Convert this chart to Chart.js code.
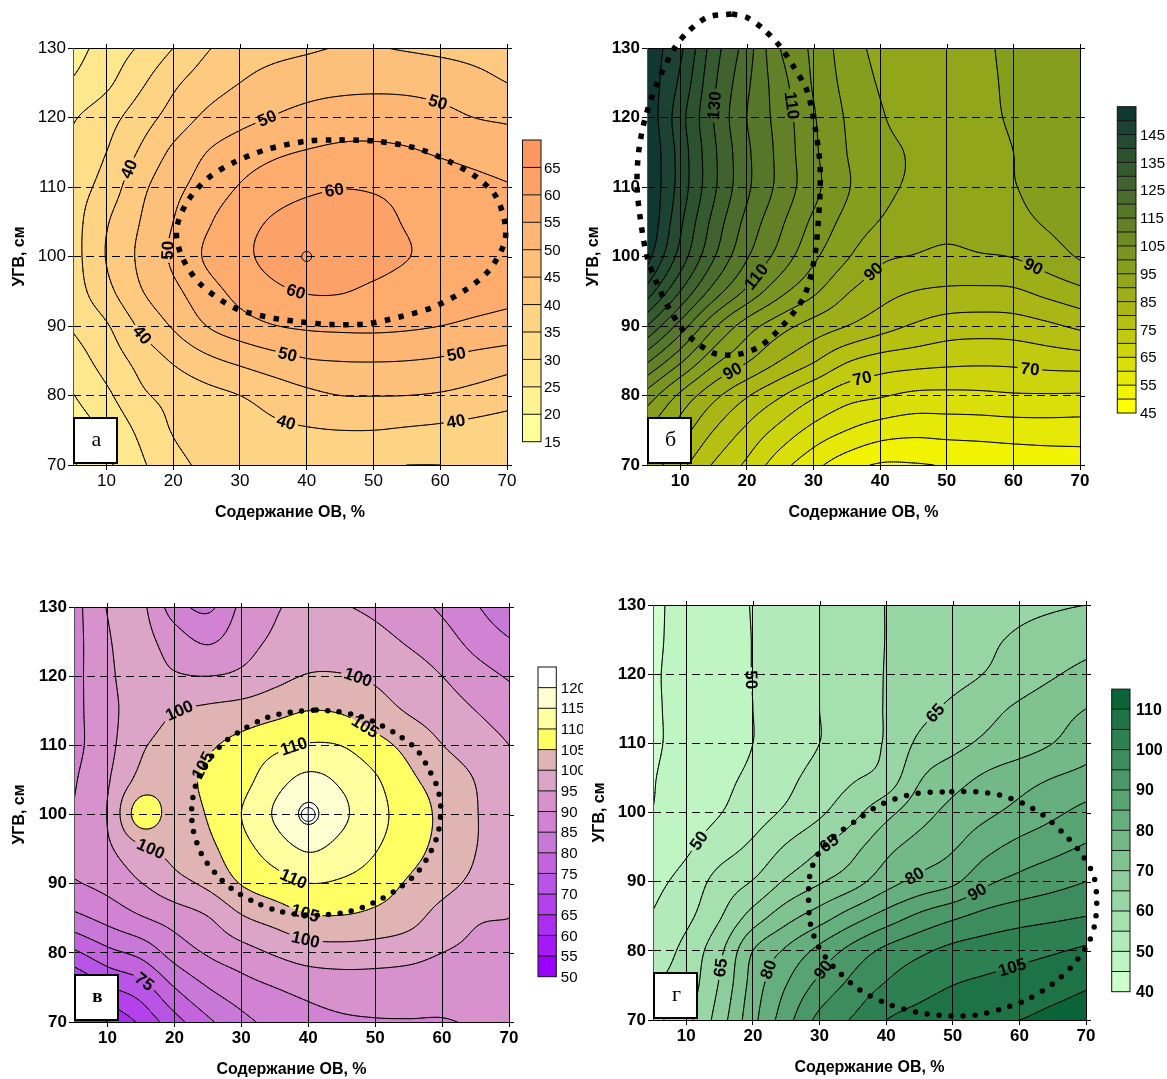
<!DOCTYPE html>
<html><head><meta charset="utf-8">
<script src="https://cdn.jsdelivr.net/npm/chart.js@4.4.1/dist/chart.umd.min.js"></script>
<style>
html,body{margin:0;padding:0;background:#fff;}
#wrap{position:relative;width:1167px;height:1079px;overflow:hidden;background:#fff;}
canvas{position:absolute;}
</style></head><body>
<div id="wrap">
<canvas id="ca" width="583" height="540" style="left:0;top:0"></canvas>
<canvas id="cb" width="584" height="540" style="left:583px;top:0"></canvas>
<canvas id="cc" width="583" height="539" style="left:0;top:540px"></canvas>
<canvas id="cd" width="584" height="539" style="left:583px;top:540px"></canvas>
</div>
<script>
// ---------------- DATA ----------------
const xGrid = [5,10,15,20,25,30,35,40,45,50,55,60,65,70];
const yGrid = [130,125,120,115,110,105,100,95,90,85,80,75,70];
const xTicks = [10,20,30,40,50,60,70];
const yTicks = [70,80,90,100,110,120,130];
const xTitle = 'Содержание ОВ, %';
const yTitle = 'УГВ, см';

// Panel а
const zA = [
 [23,27,30.5,35,39.5,42,43.3,44.3,45.2,45.2,44.6,44,43.5,43],
 [25.5,29,34,39,42.5,45,47,48,48.5,48.7,48.5,47.8,46.5,45],
 [29.5,33,37.5,42,46,48.5,50.2,51.5,52.5,52.8,52.5,51.5,50,49.3],
 [31,35,40.5,46,50,52.5,54.2,55.3,56,56,55.5,54.5,53.5,52.5],
 [32.5,37,43.5,48.5,52,55.3,57.5,59,59.8,59.5,58.5,57.3,56.2,55.3],
 [33,39.5,45,50,54.3,58,60.5,62,62.3,61.5,59.6,57.8,56.8,56.2],
 [33,40.2,45.8,50.8,55.6,58.8,61.3,62.8,63,62,60.2,58.3,57.2,56.5],
 [32.5,38.5,44.5,48.8,53,56.5,59,60.3,60.3,59,57.5,56.7,56.2,55.8],
 [30.5,34.5,40.7,45.5,50,52.8,54.8,55.7,56,56,55.6,55,54.2,53.5],
 [27.5,32,36.5,40.5,43.8,46,48,49.6,50.1,50.2,50,49.4,48.2,47],
 [24.8,29,34,36.5,38.5,40,42,43.8,45,45.1,45,44.5,43.5,42.3],
 [22,26,31,35.3,37,38,39,39.6,40,40,39.5,39,38.3,37.5],
 [19.5,24,29,33.5,35.8,36.3,36.3,36,35.5,35.2,35,35,35.3,35.8]
];
const bandEdgesA = [15,20,25,30,35,40,45,50,55,60,65,70];
const contourLevelsA = [20,25,30,35,40,45,50,55,60,65];
const colorbarLabelsA = [15,20,25,30,35,40,45,50,55,60,65];
const labelAX = [13.6,15.6,18.8,34,59.4,44.2,38.2,37,62.3,37,62.3];
const labelAY = [112.5,88.9,100.9,120,121.4,109.1,94.4,85.5,86.5,76.4,76.6];
const labelAV = [40,40,50,50,50,60,60,50,50,40,40];
const ellipseAX = [44.9,50.4,56.4,61.3,65.3,68.3,69.7,69.6,67.3,63.8,58.9,53.9,48.9,43.9,39,34,29,24,21.3,20.5,22,25,29,34,40];
const ellipseAY = [116.8,116.6,115.6,113.7,111.5,108.7,104.8,101.9,98,95.2,92.7,91.3,90.3,90.2,90.6,91.3,92.7,96.1,100,103.8,107.7,111.1,113.5,115.4,116.6];
const markerAX = [40], markerAY = [100];

// Panel б
const zB = [
 [153,146,132.5,122.5,110,104,97.5,93.8,93,93,94.2,96,97,97.5],
 [153.5,144,131,121,112,104.5,98.5,94.6,93.2,93,94,95.8,97,97.7],
 [154,142,130,120,113,105.5,99.5,95.5,93.3,93,94,95.5,97,97.8],
 [155,143,131,121,113.5,106,100,96.5,94.5,93,93.5,95,96.7,97.7],
 [155,143,131,121,113.5,106.5,100.5,96.5,94.2,92.7,93.3,94.8,96.5,97.6],
 [155,141,128.5,118.5,111,104,98.5,94.8,92.3,91.2,92,93.5,95.5,97],
 [152,138,125.5,115.5,108,101,95.5,91,89.8,89,89.6,90.2,92.5,95.5],
 [143,130,118,109,101.5,96,90.5,87,85,84.2,84,84.3,86.5,88.8],
 [130,118,106,97.5,92,88,85,82,79.5,77.7,77.3,77.6,79,81],
 [116,106,96.5,90.5,85,80.5,75.5,73,72,71.3,71,71.2,72,72.5],
 [103,94,86.5,80.5,75.5,70.8,67,65.5,64,63.8,64,64.5,64.6,64.5],
 [95,87.5,80,74,68.5,63.5,60,57.5,56.5,56.8,57,57.4,57.6,57.5],
 [88,81.5,74.5,69,62,56.5,52,49.5,49.6,50.3,51,51.5,52,52.5]
];
const bandEdgesB = [45,50,55,60,65,70,75,80,85,90,95,100,105,110,115,120,125,130,135,140,145,150,155];
const contourLevelsB = [50,55,60,65,70,75,80,85,90,95,100,105,110,115,120,125,130,135,140,145,150];
const colorbarLabelsB = [45,55,65,75,85,95,105,115,125,135,145];
const labelBX = [15.25,26.5,21.75,18,39,62.75,37.25,62.5];
const labelBY = [121.7,121.7,96.8,83.2,97.8,98,82.7,83.9];
const labelBV = [130,110,110,90,90,90,70,70];
const ellipseBX = [17.75,20,22.5,25,27,29,30.25,31,30.75,30,28.5,25.5,22,18.5,15,11,8.5,6.5,5,4,3.5,3.75,4.75,6.5,9,11,14];
const ellipseBY = [134.9,134.4,132.7,130.2,127.3,123.9,118.5,112.7,105.4,99,94.1,90.2,87.1,85.9,86.1,88.8,92.2,96.1,100,105.4,110.2,115.1,120,124.9,129.8,132.2,134.4];

// Panel в
const zC = [
 [88,95.2,96,87.5,84,91,94.5,96,95.3,94,91.8,89.2,85.5,81],
 [88,94.5,96.5,92.5,89.5,93,95.8,97.5,97.5,96.5,94.5,92,88.5,85.5],
 [88.3,94,97,95.5,95,96,98.5,100.3,100.3,99.3,97.5,95,92,89.5],
 [88.5,93.5,97.5,99.8,101,102,103.5,105,104.5,102,99.6,97.5,95,92.5],
 [88.5,93.5,99.3,101.8,104.3,106.5,108.8,110.4,109.9,106.8,103.5,100.1,97.5,95],
 [89.5,94.5,101.5,103.2,105.8,108.3,112.9,116.3,114.1,110.6,106,103,99.8,96],
 [90.3,95.2,107.5,103,105.3,110,115.5,120.8,116,111.8,107.5,104,100.3,96.5],
 [91,94.2,99,101.5,103.8,108.2,112.2,115.5,113.2,110.3,106.8,103.5,100.1,96.5],
 [89.5,91.5,94.8,98.3,101,105.2,107.8,109.9,109.3,107.5,104.4,101.6,98.8,96.2],
 [83.5,86.5,89.5,92,94.7,99.3,101.8,104.2,104.5,103.5,101.6,98,95.5,95],
 [74,78.5,81.5,87,90.5,93,95.5,97.5,97.9,97.6,96.8,95,94,93.5],
 [64,69.5,73,80,85,88,90,91.5,92.3,92.3,92,91.5,91.5,91.8],
 [55,60,66,73,79,83.5,86.5,88.3,89.3,89.7,89.8,89.8,90.3,90.7]
];
const bandEdgesC = [50,55,60,65,70,75,80,85,90,95,100,105,110,115,120,125];
const contourLevelsC = [55,60,65,70,75,80,85,90,95,100,105,110,115,120];
const colorbarLabelsC = [50,55,60,65,70,75,80,85,90,95,100,105,110,115,120];
const labelCX = [21.2,47.1,16.4,39.6,24,48.5,39.7,37.8,38,16.6];
const labelCY = [114.2,119,94.9,81.9,107.2,112.7,86.3,110,91.1,77.1];
const labelCV = [100,100,100,100,105,105,105,110,110,75];
const ellipseCX = [41.2,44.2,47.7,50.7,53.7,56.2,58.2,59.4,59.8,59.4,58.2,56.2,53.2,49.7,46.2,42.7,39.2,35.8,32.3,28.8,26.3,24.1,22.8,22.6,23.3,24.8,27.3,30.3,33.8,37.3];
const ellipseCY = [115.1,114.9,114.2,113,111.3,109.4,106.2,103.6,100.7,97.3,94.4,91.5,89.1,87.2,86,85.5,85.5,86,87.2,89.1,91.3,94.2,97.8,101.2,104.6,107.4,110.3,112.3,114,114.8];
const markerCX = [40], markerCY = [100];

// Panel г
const zD = [
 [44,46.7,48.5,50.2,52.5,55,57.5,60.1,61.5,62.5,63.3,64,64.5,65],
 [44.2,46.6,48.4,50.1,52.5,55,57.5,60.1,62,63.2,64.3,65.6,66.8,68],
 [44.5,46.5,48.3,50.1,52.6,55,57.6,60.2,62.2,63.5,65.2,67.3,69.5,71.5],
 [44.5,46.3,48.2,50,52.6,55,57.6,60.3,63.5,66,68.5,70.8,73,75],
 [44.5,46.2,48,50,52.5,55,57.5,60.5,66,68.5,71,72.8,75,77.8],
 [44.8,46.8,48.8,51,53.8,56.8,59.5,62,69.5,73,75.8,78,80,81.6],
 [45.1,47.5,49.8,52.8,55.8,59.2,63.5,68.5,73,76.5,79,81.5,84,86.5],
 [46.5,49.2,52.8,56,60.5,64.5,68.5,73.5,77,79.5,83.5,86.5,88.5,90.5],
 [48.6,51.8,56.8,60.3,65.7,69.5,73,78,81.5,84,89,91.5,93.3,95],
 [50.3,53.8,59.5,67,73,77.5,82.5,87,91,94,96.5,98,99,100],
 [52.2,56.5,63.8,75,80.8,86.5,91.8,96.2,99,101.3,102.5,103.5,104.5,105.8],
 [54.5,57.5,65.5,77,85,91.5,96.5,100.5,103,105,106,106.8,108,109.5],
 [53.5,58.5,67.5,78.5,88,96.5,100.5,105,107,108.5,109.5,110,111.5,113]
];
const bandEdgesD = [40,45,50,55,60,65,70,75,80,85,90,95,100,105,110,115];
const contourLevelsD = [45,50,55,60,65,70,75,80,85,90,95,100,105,110];
const colorbarLabelsD = [40,50,60,70,80,90,100,110];
const labelDX = [19.6,47.1,12.1,31.1,43.85,53.6,14.1,22.6,30.9,59.35];
const labelDY = [119.2,114.6,95.8,96,91.4,88.6,77.7,77.2,77,76.3];
const labelDV = [50,65,50,65,80,90,65,80,90,105];
const ellipseDX = [49.85,53.6,57.1,60.6,63.6,66.6,69.1,71.1,71.6,71.35,70.35,68.1,65.1,61.1,57.6,53.6,49.1,44.6,40.1,36.1,32.1,29.85,28.6,28.35,28.6,29.85,32.1,35.6,39.1,44.1];
const ellipseDY = [103,103,102.5,101.3,99.6,97,94.3,91,87.6,84,81.1,78,75.3,72.9,71.7,70.7,70.6,71.1,72.4,74.3,77.7,80.6,84,87.6,91.2,94.1,96.5,98.9,101.1,102.7];

// ---------------- STYLES ----------------
const colorsA = ['#FFFF99','#FEF393','#FEE88E','#FEDE89','#FDD484','#FDCA7F','#FDC07A','#FDB674','#FDAC6E','#FCA268','#FC9761'];
const colorsB = ['#FFFF00','#F2F203','#E6E806','#DADE09','#CED40C','#C2CA0F','#B6C012','#AAB615','#9EAE18','#92A61B','#869E1E','#7A9421','#6E8A24','#628027','#56762A','#4B6C2C','#40622E','#365A2F','#2D5230','#244A31','#1B4232','#103832'];
const colorsC = ['#9B00FF','#A519F5','#AA2DF0','#B441EB','#B955E6','#C364DC','#C878D7','#D282D2','#D791CD','#DCA5C8','#E1B4B4','#FFFF64','#FFFFA0','#FFFFD2','#FFFFFF'];
const colorsD = ['#CDFFCD','#BEF5C3','#B2EBB9','#A5E1AF','#98D7A5','#8CCD9B','#7FC391','#72B987','#64AF7D','#57A372','#4A9868','#3C8C5D','#2D8052','#1E7346','#0A6437'];

const FAM = "'Liberation Sans', Arial, Helvetica, sans-serif";
const SERIF = "'Liberation Serif', 'DejaVu Serif', 'Times New Roman', serif";
const LABEL_FONT = 'bold 17px ' + FAM;

const panels = {
 ca: {z:zA, edges:bandEdgesA, colors:colorsA, levels:contourLevelsA, labX:labelAX, labY:labelAY, labV:labelAV,
      cbLabels:colorbarLabelsA, cb:{x:522.5, w:18.5, top:140, bottom:441.7, gap:3, font:'15px '+FAM},
      ellX:ellipseAX, ellY:ellipseAY, dot:{w:5.5, dash:[5.5,8.5], cap:'butt'},
      letter:'а', letterFont:'22px '+SERIF, tickWeight:'normal',
      pad:{left:10, top:48, right:76, bottom:18}, yW:63, marker:'ring', mX:markerAX, mY:markerAY},
 cb: {z:zB, edges:bandEdgesB, colors:colorsB, levels:contourLevelsB, labX:labelBX, labY:labelBY, labV:labelBV,
      cbLabels:colorbarLabelsB, cb:{x:534.3, w:18.7, top:106.7, bottom:413, gap:4, font:'15px '+FAM},
      ellX:ellipseBX, ellY:ellipseBY, dot:{w:5.5, dash:[5.5,8], cap:'butt'},
      letter:'б', letterFont:'22px '+SERIF, tickWeight:'bold',
      pad:{left:1, top:48, right:87, bottom:18}, yW:63},
 cc: {z:zC, edges:bandEdgesC, colors:colorsC, levels:contourLevelsC, labX:labelCX, labY:labelCY, labV:labelCV,
      cbLabels:colorbarLabelsC, cb:{x:538, w:18.3, top:127, bottom:436.7, gap:4.5, font:'15px '+FAM},
      ellX:ellipseCX, ellY:ellipseCY, dot:{w:5.5, dash:[0,11.5], cap:'round'},
      letter:'в', letterFont:'bold 19px '+SERIF, tickWeight:'bold',
      pad:{left:10, top:67, right:74, bottom:0}, yW:64, marker:'cross', mX:markerCX, mY:markerCY},
 cd: {z:zD, edges:bandEdgesD, colors:colorsD, levels:contourLevelsD, labX:labelDX, labY:labelDY, labV:labelDV,
      cbLabels:colorbarLabelsD, cb:{x:528.7, w:18.3, top:149.1, bottom:451.7, gap:6, font:'bold 16px '+FAM},
      ellX:ellipseDX, ellY:ellipseDY, dot:{w:5.5, dash:[0,12], cap:'round'},
      letter:'г', letterFont:'22px '+SERIF, tickWeight:'bold',
      pad:{left:7, top:65, right:81, bottom:2}, yW:63}
};

// ---------------- FIELD SAMPLING ----------------
function cr(p0,p1,p2,p3,t){ return p1 + 0.5*t*(p2-p0 + t*(2*p0-5*p1+4*p2-p3 + t*(3*(p1-p2)+p3-p0))); }
function makeSampler(z){
  const nx = xGrid.length, ny = yGrid.length;
  const P = [];
  for (let j=-1;j<=ny;j++){
    const row = [];
    for (let i=-1;i<=nx;i++){
      const jj = Math.min(Math.max(j,0),ny-1), ii = Math.min(Math.max(i,0),nx-1);
      const g = (jr)=>{ if(i<0) return 2*z[jr][0]-z[jr][1]; if(i>nx-1) return 2*z[jr][nx-1]-z[jr][nx-2]; return z[jr][ii]; };
      let v;
      if (j<0) v = 2*g(0)-g(1);
      else if (j>ny-1) v = 2*g(ny-1)-g(ny-2);
      else v = g(jj);
      row.push(v);
    }
    P.push(row);
  }
  const dx = xGrid[1]-xGrid[0], dy = yGrid[0]-yGrid[1];
  return function(x,y){
    let u = (x-xGrid[0])/dx, v = (yGrid[0]-y)/dy;
    u = Math.min(Math.max(u,0),nx-1); v = Math.min(Math.max(v,0),ny-1);
    let i = Math.min(Math.floor(u),nx-2), j = Math.min(Math.floor(v),ny-2);
    const t = u-i, s = v-j;
    const r0 = P[j], r1 = P[j+1], r2 = P[j+2], r3 = P[j+3];
    const a = cr(r0[i],r0[i+1],r0[i+2],r0[i+3],t);
    const b = cr(r1[i],r1[i+1],r1[i+2],r1[i+3],t);
    const c = cr(r2[i],r2[i+1],r2[i+2],r2[i+3],t);
    const d = cr(r3[i],r3[i+1],r3[i+2],r3[i+3],t);
    return cr(a,b,c,d,s);
  };
}
function hexToRgb(h){ const n = parseInt(h.slice(1),16); return [(n>>16)&255,(n>>8)&255,n&255]; }

function prepare(chart, P){
  if (P._ready) return;
  const ca = chart.chartArea, xs = chart.scales.x, ys = chart.scales.y;
  const f = makeSampler(P.z);
  const x0 = Math.floor(ca.left), y0 = Math.floor(ca.top);
  const w = Math.ceil(ca.right)-x0, h = Math.ceil(ca.bottom)-y0;
  const off = document.createElement('canvas'); off.width = w; off.height = h;
  const octx = off.getContext('2d'); const img = octx.createImageData(w,h);
  const rgb = P.colors.map(hexToRgb);
  const lo = P.edges[0], step = P.edges[1]-P.edges[0], n = P.colors.length;
  const xv = new Float64Array(w);
  for (let px=0;px<w;px++) xv[px] = xs.getValueForPixel(x0+px+0.5);
  for (let py=0;py<h;py++){
    const yv = ys.getValueForPixel(y0+py+0.5);
    for (let px=0;px<w;px++){
      const val = f(xv[px],yv);
      let b = Math.floor((val-lo)/step); if (b<0) b=0; if (b>n-1) b=n-1;
      const k = (py*w+px)*4, c = rgb[b];
      img.data[k]=c[0]; img.data[k+1]=c[1]; img.data[k+2]=c[2]; img.data[k+3]=255;
    }
  }
  octx.putImageData(img,0,0);
  P._fill = {canvas:off, x:x0, y:y0};
  const NX = Math.round((ca.right-ca.left)/2), NY = Math.round((ca.bottom-ca.top)/2);
  const gx = new Float64Array(NX+1), gy = new Float64Array(NY+1);
  for (let i=0;i<=NX;i++) gx[i] = ca.left + (ca.right-ca.left)*i/NX;
  for (let j=0;j<=NY;j++) gy[j] = ca.top + (ca.bottom-ca.top)*j/NY;
  const V = new Float64Array((NX+1)*(NY+1));
  for (let j=0;j<=NY;j++){ const yy = ys.getValueForPixel(gy[j]); for (let i=0;i<=NX;i++) V[j*(NX+1)+i] = f(xs.getValueForPixel(gx[i]), yy); }
  const segs = [];
  for (const L of P.levels){
    for (let j=0;j<NY;j++){
      for (let i=0;i<NX;i++){
        const a = V[j*(NX+1)+i], b = V[j*(NX+1)+i+1], c = V[(j+1)*(NX+1)+i+1], d = V[(j+1)*(NX+1)+i];
        const idx = (a>L?8:0)|(b>L?4:0)|(c>L?2:0)|(d>L?1:0);
        if (idx===0 || idx===15) continue;
        const X0 = gx[i], X1 = gx[i+1], Y0 = gy[j], Y1 = gy[j+1];
        const T = ()=>[X0+(X1-X0)*(L-a)/(b-a), Y0];
        const R = ()=>[X1, Y0+(Y1-Y0)*(L-b)/(c-b)];
        const B = ()=>[X0+(X1-X0)*(L-d)/(c-d), Y1];
        const Lf = ()=>[X0, Y0+(Y1-Y0)*(L-a)/(d-a)];
        const add = (p,q)=>segs.push(p[0],p[1],q[0],q[1]);
        const ctr = (a+b+c+d)/4;
        switch(idx){
          case 1: case 14: add(Lf(),B()); break;
          case 2: case 13: add(B(),R()); break;
          case 3: case 12: add(Lf(),R()); break;
          case 4: case 11: add(T(),R()); break;
          case 6: case 9: add(T(),B()); break;
          case 7: case 8: add(Lf(),T()); break;
          case 5: if (ctr>L){ add(Lf(),T()); add(B(),R()); } else { add(T(),R()); add(Lf(),B()); } break;
          case 10: if (ctr>L){ add(T(),R()); add(Lf(),B()); } else { add(Lf(),T()); add(B(),R()); } break;
        }
      }
    }
  }
  P._segs = segs;
  const ctx = chart.ctx;
  ctx.save(); ctx.font = LABEL_FONT;
  const fp = (px,py)=>f(xs.getValueForPixel(px), ys.getValueForPixel(py));
  P._labels = [];
  for (let k=0;k<P.labX.length;k++){
    const L = P.labV[k];
    let px = xs.getPixelForValue(P.labX[k]), py = ys.getPixelForValue(P.labY[k]);
    for (let it=0; it<15; it++){
      const v = fp(px,py)-L;
      const ddx = (fp(px+1,py)-fp(px-1,py))/2, ddy = (fp(px,py+1)-fp(px,py-1))/2;
      const g2 = ddx*ddx+ddy*ddy; if (g2<1e-12) break;
      let sx = -v*ddx/g2, sy = -v*ddy/g2;
      const sl = Math.hypot(sx,sy); if (sl>6){ sx*=6/sl; sy*=6/sl; }
      px += sx; py += sy;
      if (Math.abs(v)<1e-3) break;
    }
    const ddx = (fp(px+1,py)-fp(px-1,py))/2, ddy = (fp(px,py+1)-fp(px,py-1))/2;
    let ang = Math.atan2(ddx, -ddy);
    while (ang > Math.PI/2+1e-6) ang -= Math.PI;
    while (ang <= -Math.PI/2+1e-6) ang += Math.PI;
    const text = String(L);
    const tw = ctx.measureText(text).width;
    P._labels.push({x:px, y:py, ang, text, w:tw+6, h:15});
  }
  ctx.restore();
  P._ready = true;
}

const contourPlugin = {
  id: 'contourPanel',
  beforeDraw(chart){
    const P = panels[chart.canvas.id]; if (!P) return;
    prepare(chart, P);
    const ctx = chart.ctx, ca = chart.chartArea;
    ctx.save();
    ctx.fillStyle = '#fff'; ctx.fillRect(0,0,chart.width,chart.height);
    ctx.drawImage(P._fill.canvas, P._fill.x, P._fill.y);
    ctx.beginPath();
    ctx.rect(ca.left, ca.top, ca.right-ca.left, ca.bottom-ca.top);
    for (const lb of P._labels){
      const c = Math.cos(lb.ang), s = Math.sin(lb.ang);
      const pts = [[-lb.w/2,-lb.h/2],[lb.w/2,-lb.h/2],[lb.w/2,lb.h/2],[-lb.w/2,lb.h/2]].map(([u,v])=>[lb.x+u*c-v*s, lb.y+u*s+v*c]);
      ctx.moveTo(pts[0][0],pts[0][1]); for (let q=1;q<4;q++) ctx.lineTo(pts[q][0],pts[q][1]); ctx.closePath();
    }
    ctx.clip('evenodd');
    ctx.strokeStyle = '#000'; ctx.lineWidth = 0.95; ctx.lineCap = 'round';
    ctx.beginPath();
    const sg = P._segs;
    for (let k=0;k<sg.length;k+=4){ ctx.moveTo(sg[k],sg[k+1]); ctx.lineTo(sg[k+2],sg[k+3]); }
    ctx.stroke();
    ctx.restore();
  },
  beforeDatasetsDraw(chart){
    const P = panels[chart.canvas.id]; if (!P) return;
    const ctx = chart.ctx, ca = chart.chartArea, xs = chart.scales.x, ys = chart.scales.y;
    ctx.save();
    ctx.strokeStyle = '#000'; ctx.lineWidth = 1;
    const yt = Math.round(ys.getPixelForValue(yTicks[yTicks.length-1]))+0.5;
    const yb = Math.round(ys.getPixelForValue(yTicks[0]))+0.5;
    ctx.beginPath();
    ctx.moveTo(ca.left-5, yt); ctx.lineTo(ca.right+5, yt);
    ctx.moveTo(ca.left-5, yb); ctx.lineTo(ca.right+5, yb);
    ctx.stroke();
    ctx.setLineDash([8,5]);
    ctx.beginPath();
    for (const v of yTicks.slice(1,-1)){ const y = Math.round(ys.getPixelForValue(v))+0.5; ctx.moveTo(ca.right, y); ctx.lineTo(ca.right+5, y); }
    ctx.stroke();
    ctx.setLineDash([]);
    ctx.beginPath();
    for (const v of xTicks){ const x = Math.round(xs.getPixelForValue(v))+0.5; ctx.moveTo(x, ca.top-4); ctx.lineTo(x, ca.top); }
    ctx.stroke();
    ctx.strokeStyle = '#555';
    ctx.beginPath(); ctx.moveTo(Math.round(ca.left)+0.5, ca.top); ctx.lineTo(Math.round(ca.left)+0.5, ca.bottom); ctx.stroke();
    ctx.fillStyle = '#000'; ctx.font = LABEL_FONT; ctx.textAlign = 'center'; ctx.textBaseline = 'middle';
    for (const lb of P._labels){
      ctx.save(); ctx.translate(lb.x, lb.y); ctx.rotate(lb.ang); ctx.fillText(lb.text, 0, 1); ctx.restore();
    }
    ctx.restore();
  },
  afterDraw(chart){
    const P = panels[chart.canvas.id]; if (!P) return;
    const ctx = chart.ctx, ca = chart.chartArea;
    ctx.save();
    const cb = P.cb, n = P.colors.length, hh = (cb.bottom-cb.top)/n;
    for (let k=0;k<n;k++){ ctx.fillStyle = P.colors[k]; ctx.fillRect(cb.x, cb.bottom-(k+1)*hh, cb.w, hh); }
    ctx.strokeStyle = '#111'; ctx.lineWidth = 1;
    ctx.beginPath();
    for (let k=1;k<n;k++){ const y = cb.bottom-k*hh; ctx.moveTo(cb.x, y); ctx.lineTo(cb.x+cb.w, y); }
    ctx.stroke();
    ctx.strokeRect(cb.x, cb.top, cb.w, cb.bottom-cb.top);
    ctx.fillStyle = '#000'; ctx.font = cb.font; ctx.textAlign = 'left'; ctx.textBaseline = 'middle';
    const lo = P.edges[0], step = P.edges[1]-P.edges[0];
    for (const v of P.cbLabels){ const k = (v-lo)/step; ctx.fillText(String(v), cb.x+cb.w+cb.gap, cb.bottom-k*hh+1); }
    const bx = ca.left+1, by = ca.bottom-47, bw = 43, bh = 45;
    ctx.fillStyle = '#fff'; ctx.fillRect(bx, by, bw, bh);
    ctx.strokeStyle = '#000'; ctx.lineWidth = 2; ctx.strokeRect(bx, by, bw, bh);
    ctx.fillStyle = '#000'; ctx.font = P.letterFont; ctx.textAlign = 'center'; ctx.textBaseline = 'middle';
    ctx.fillText(P.letter, bx+bw/2+1, by+bh/2);
    ctx.restore();
  }
};
Chart.register(contourPlugin);

function buildChart(id){
  const P = panels[id];
  const ell = P.ellX.map((x,i)=>({x, y:P.ellY[i]}));
  ell.push({x:P.ellX[0], y:P.ellY[0]});
  const datasets = [{
    type:'line', data:ell, borderColor:'#000', borderWidth:P.dot.w, borderDash:P.dot.dash, borderCapStyle:P.dot.cap,
    pointRadius:0, fill:false, tension:0.3, clip:false, order:2
  }];
  if (P.marker === 'ring'){
    datasets.push({type:'scatter', data:P.mX.map((x,i)=>({x,y:P.mY[i]})), pointRadius:5, pointStyle:'circle',
      pointBackgroundColor:'rgba(0,0,0,0)', pointBorderColor:'#000', pointBorderWidth:1, order:1});
  } else if (P.marker === 'cross'){
    datasets.push({type:'scatter', data:P.mX.map((x,i)=>({x,y:P.mY[i]})), pointRadius:7, pointStyle:'circle',
      pointBackgroundColor:'#fff', pointBorderColor:'#000', pointBorderWidth:1, order:1});
    datasets.push({type:'scatter', data:P.mX.map((x,i)=>({x,y:P.mY[i]})), pointRadius:7, pointStyle:'cross',
      pointBorderColor:'#000', pointBorderWidth:1, order:0});
  }
  const tickFont = {family:FAM, size:17, weight:P.tickWeight};
  const titleFont = {family:FAM, size:16, weight:'bold'};
  new Chart(document.getElementById(id), {
    type:'scatter',
    data:{datasets},
    options:{
      responsive:false, animation:false, devicePixelRatio:1, events:[],
      layout:{padding:P.pad},
      plugins:{legend:{display:false}, tooltip:{enabled:false}, title:{display:false}},
      scales:{
        x:{type:'linear', min:5, max:70,
           afterBuildTicks:s=>{ s.ticks = xTicks.map(v=>({value:v})); },
           afterFit:s=>{ s.height = 57; },
           grid:{color:'#000', lineWidth:1, tickLength:5, tickColor:'#000', drawTicks:true},
           border:{display:false},
           ticks:{color:'#000', font:tickFont, padding:1, maxRotation:0, autoSkip:false},
           title:{display:true, text:xTitle, color:'#000', font:titleFont, padding:0}},
        y:{type:'linear', min:70, max:130,
           afterBuildTicks:s=>{ s.ticks = yTicks.map(v=>({value:v})); },
           afterFit:s=>{ s.width = P.yW; },
           grid:{color:'#000', lineWidth:1, tickLength:5, tickColor:'#000', drawTicks:true},
           border:{display:false, dash:[8,5]},
           ticks:{color:'#000', font:tickFont, padding:2, autoSkip:false},
           title:{display:true, text:yTitle, color:'#000', font:titleFont, padding:0}}
      }
    }
  });
}
['ca','cb','cc','cd'].forEach(buildChart);
</script>
</body></html>
